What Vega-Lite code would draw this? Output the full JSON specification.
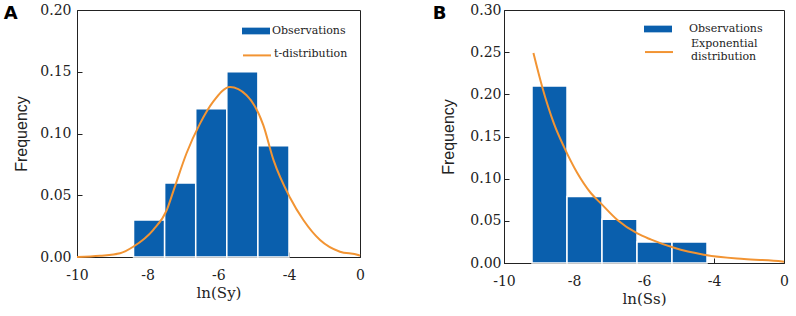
{
  "$schema": "https://vega.github.io/schema/vega-lite/v6.json",
  "background": "white",
  "padding": {"left": 3, "top": 2, "right": 2, "bottom": 0},
  "spacing": 67,
  "config": {
    "view": {"stroke": "#222", "strokeWidth": 1},
    "axis": {
      "grid": false,
      "domain": true,
      "ticks": true,
      "labelFont": "DejaVu Serif",
      "labelFontSize": 14,
      "labelColor": "#222",
      "titleFont": "DejaVu Serif",
      "titleFontSize": 15,
      "titleFontWeight": "normal",
      "titleColor": "#222",
      "domainColor": "#222",
      "tickColor": "#222",
      "labelOverlap": false,
      "labelFlush": false
    },
    "axisY": {"titleFont": "Liberation Sans", "titleFontSize": 16},
    "legend": {"labelFont": "DejaVu Serif", "labelFontSize": 11, "labelColor": "#222", "padding": 0, "title": null, "labelBaseline": "middle"}
  },
  "resolve": {"scale": {"fill": "independent", "stroke": "independent"}},
  "hconcat": [
    {
      "width": 283,
      "height": 247,
      "title": {"text": "A", "anchor": "start", "frame": "bounds", "font": "DejaVu Sans", "fontSize": 18, "fontWeight": "bold", "color": "#000", "offset": -20, "dx": -10},
      "layer": [
        {
          "data": {"values": [
            {"bin_start": -8.4, "bin_end": -7.52, "frequency": 0.03, "series": "Observations"},
            {"bin_start": -7.52, "bin_end": -6.64, "frequency": 0.06, "series": "Observations"},
            {"bin_start": -6.64, "bin_end": -5.76, "frequency": 0.12, "series": "Observations"},
            {"bin_start": -5.76, "bin_end": -4.88, "frequency": 0.15, "series": "Observations"},
            {"bin_start": -4.88, "bin_end": -4.0, "frequency": 0.09, "series": "Observations"}
          ]},
          "mark": {"type": "bar", "stroke": "white", "strokeWidth": 1.5},
          "encoding": {
            "x": {"field": "bin_start", "type": "quantitative",
              "scale": {"domain": [-10, -4, 0], "range": [0, 212, 283]},
              "axis": {"title": "ln(Sy)", "values": [-10, -9, -8, -7, -6, -5, -4, -2, 0],
                "labelExpr": "(datum.value === -9 || datum.value === -7 || datum.value === -5 || datum.value === -2) ? '' : toString(datum.value)",
                "tickSize": {"condition": {"test": "datum.value === -9 || datum.value === -7 || datum.value === -5 || datum.value === -2", "value": -3}, "value": -5},
                "labelPadding": 16, "titlePadding": 3}},
            "x2": {"field": "bin_end"},
            "y": {"field": "frequency", "type": "quantitative",
              "scale": {"domain": [0, 0.2]},
              "axis": {"title": "Frequency", "values": [0, 0.025, 0.05, 0.075, 0.1, 0.125, 0.15, 0.175, 0.2],
                "labelExpr": "(round(datum.value * 1000) % 50 !== 0) ? '' : format(datum.value, '.2f')",
                "tickSize": {"condition": {"test": "round(datum.value * 1000) % 50 !== 0", "value": -3}, "value": -5},
                "labelPadding": 11, "titlePadding": 10}},
            "y2": {"datum": 0},
            "fill": {"field": "series", "type": "nominal",
              "scale": {"domain": ["Observations"], "range": ["#0a5fad"]},
              "legend": {"orient": "none", "legendX": 172, "legendY": 14,
                "symbolType": "M-2,-0.48H2V0.48H-2Z", "symbolSize": 196, "labelOffset": 9, "symbolStrokeWidth": 0}}
          }
        },
        {
          "data": {"values": [
            {"x": -10, "density": 0.0, "series": "t-distribution"},
            {"x": -9.35, "density": 0.001, "series": "t-distribution"},
            {"x": -8.78, "density": 0.003, "series": "t-distribution"},
            {"x": -8.41, "density": 0.0083, "series": "t-distribution"},
            {"x": -7.84, "density": 0.022, "series": "t-distribution"},
            {"x": -7.46, "density": 0.038, "series": "t-distribution"},
            {"x": -7.23, "density": 0.057, "series": "t-distribution"},
            {"x": -6.9, "density": 0.084, "series": "t-distribution"},
            {"x": -6.52, "density": 0.108, "series": "t-distribution"},
            {"x": -6.14, "density": 0.126, "series": "t-distribution"},
            {"x": -5.67, "density": 0.1377, "series": "t-distribution"},
            {"x": -5.2, "density": 0.131, "series": "t-distribution"},
            {"x": -4.73, "density": 0.107, "series": "t-distribution"},
            {"x": -4.44, "density": 0.0786, "series": "t-distribution"},
            {"x": -3.94, "density": 0.048, "series": "t-distribution"},
            {"x": -3.19, "density": 0.03, "series": "t-distribution"},
            {"x": -2.25, "density": 0.0138, "series": "t-distribution"},
            {"x": -1.13, "density": 0.0043, "series": "t-distribution"},
            {"x": -0.1, "density": 0.0016, "series": "t-distribution"},
            {"x": 0, "density": 0.001, "series": "t-distribution"}
          ]},
          "mark": {"type": "line", "strokeWidth": 2, "interpolate": "monotone"},
          "encoding": {
            "x": {"field": "x", "type": "quantitative"},
            "y": {"field": "density", "type": "quantitative"},
            "stroke": {"field": "series", "type": "nominal",
              "scale": {"domain": ["t-distribution"], "range": ["#f29433"]},
              "legend": {"orient": "none", "legendX": 172, "legendY": 36,
                "symbolType": "M-2,0.2H2", "symbolSize": 196, "symbolStrokeWidth": 2, "labelOffset": 9}}
          }
        }
      ]
    },
    {
      "width": 280,
      "height": 253,
      "title": {"text": "B", "anchor": "start", "frame": "bounds", "font": "DejaVu Sans", "fontSize": 18, "fontWeight": "bold", "color": "#000", "offset": -20, "dx": -8},
      "layer": [
        {
          "data": {"values": [
            {"bin_start": -9.2, "bin_end": -8.2, "frequency": 0.21, "series": "Observations"},
            {"bin_start": -8.2, "bin_end": -7.2, "frequency": 0.079, "series": "Observations"},
            {"bin_start": -7.2, "bin_end": -6.2, "frequency": 0.052, "series": "Observations"},
            {"bin_start": -6.2, "bin_end": -5.2, "frequency": 0.025, "series": "Observations"},
            {"bin_start": -5.2, "bin_end": -4.2, "frequency": 0.025, "series": "Observations"}
          ]},
          "mark": {"type": "bar", "stroke": "white", "strokeWidth": 1.5},
          "encoding": {
            "x": {"field": "bin_start", "type": "quantitative",
              "scale": {"domain": [-10, -4, 0], "range": [0, 210, 280]},
              "axis": {"title": "ln(Ss)", "values": [-10, -9, -8, -7, -6, -5, -4, -2, 0],
                "labelExpr": "(datum.value === -9 || datum.value === -7 || datum.value === -5 || datum.value === -2) ? '' : toString(datum.value)",
                "tickSize": {"condition": {"test": "datum.value === -9 || datum.value === -7 || datum.value === -5 || datum.value === -2", "value": -3}, "value": -5},
                "labelPadding": 16, "titlePadding": 3}},
            "x2": {"field": "bin_end"},
            "y": {"field": "frequency", "type": "quantitative",
              "scale": {"domain": [0, 0.3]},
              "axis": {"title": "Frequency", "values": [0, 0.025, 0.05, 0.075, 0.1, 0.125, 0.15, 0.175, 0.2, 0.225, 0.25, 0.275, 0.3],
                "labelExpr": "(round(datum.value * 1000) % 50 !== 0) ? '' : format(datum.value, '.2f')",
                "tickSize": {"condition": {"test": "round(datum.value * 1000) % 50 !== 0", "value": -3}, "value": -5},
                "labelPadding": 8, "titlePadding": 13}},
            "y2": {"datum": 0},
            "fill": {"field": "series", "type": "nominal",
              "scale": {"domain": ["Observations"], "range": ["#0a5fad"]},
              "legend": {"orient": "none", "legendX": 147, "legendY": 12,
                "symbolType": "M-2,-0.48H2V0.48H-2Z", "symbolSize": 196, "labelOffset": 24, "symbolStrokeWidth": 0}}
          }
        },
        {
          "data": {"values": [
            {"x": -9.16, "density": 0.249, "series": "Exponential distribution"},
            {"x": -8.91, "density": 0.209, "series": "Exponential distribution"},
            {"x": -8.57, "density": 0.165, "series": "Exponential distribution"},
            {"x": -8.29, "density": 0.138, "series": "Exponential distribution"},
            {"x": -7.91, "density": 0.107, "series": "Exponential distribution"},
            {"x": -7.52, "density": 0.083, "series": "Exponential distribution"},
            {"x": -7.24, "density": 0.071, "series": "Exponential distribution"},
            {"x": -6.76, "density": 0.051, "series": "Exponential distribution"},
            {"x": -6.19, "density": 0.035, "series": "Exponential distribution"},
            {"x": -5.81, "density": 0.028, "series": "Exponential distribution"},
            {"x": -5.14, "density": 0.018, "series": "Exponential distribution"},
            {"x": -4.29, "density": 0.0098, "series": "Exponential distribution"},
            {"x": -2.29, "density": 0.0047, "series": "Exponential distribution"},
            {"x": -0.1, "density": 0.0019, "series": "Exponential distribution"},
            {"x": 0, "density": 0.0016, "series": "Exponential distribution"}
          ]},
          "mark": {"type": "line", "strokeWidth": 2, "interpolate": "monotone"},
          "encoding": {
            "x": {"field": "x", "type": "quantitative"},
            "y": {"field": "density", "type": "quantitative"},
            "stroke": {"field": "series", "type": "nominal",
              "scale": {"domain": ["Exponential distribution"], "range": ["#f29433"]},
              "legend": {"orient": "none", "legendX": 147, "legendY": 26,
                "symbolType": "M-2,1.15H2", "symbolSize": 196, "symbolStrokeWidth": 2, "labelOffset": 24,
                "labelExpr": "['Exponential', 'distribution']"}}
          }
        }
      ]
    }
  ]
}
